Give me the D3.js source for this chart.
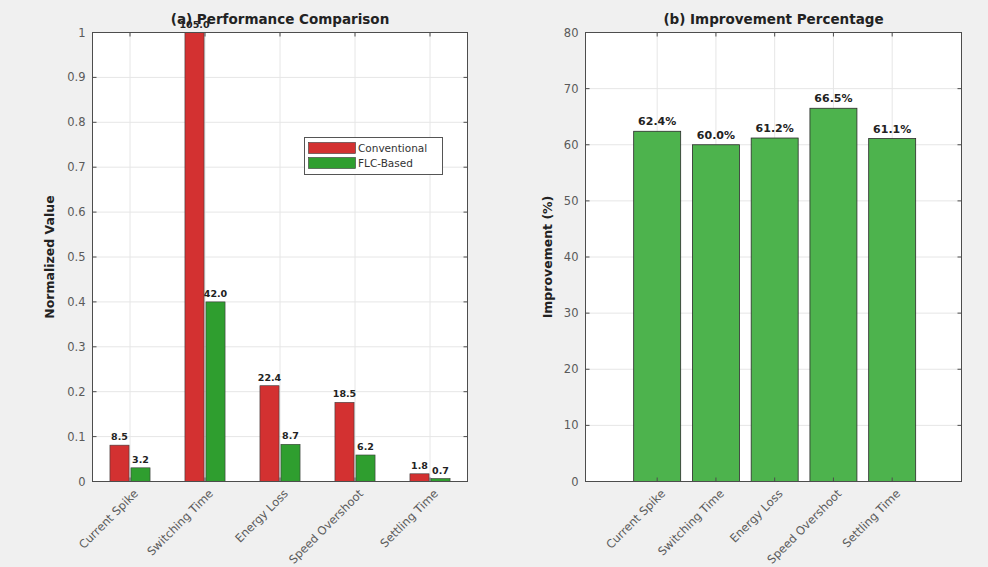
<!DOCTYPE html>
<html>
<head>
<meta charset="utf-8">
<script src="https://cdn.jsdelivr.net/npm/d3@7/dist/d3.min.js"></script>
<style>
  html, body { margin: 0; padding: 0; background: #f0f0f0; }
  svg { display: block; font-family: "DejaVu Sans", "Liberation Sans", Arial, sans-serif; }
</style>
</head>
<body>
<svg id="fig" width="988" height="567"></svg>
<script>
// Metrics compared in both panels
const categories = ["Current Spike", "Switching Time", "Energy Loss", "Speed Overshoot", "Settling Time"];
// Raw measured values for each controller
const conventional = [8.5, 105.0, 22.4, 18.5, 1.8];
const flcBased = [3.2, 42.0, 8.7, 6.2, 0.7];
// Improvement of the FLC-based controller over the conventional one (%)
const improvement = [62.4, 60.0, 61.2, 66.5, 61.1];
const seriesNames = ["Conventional", "FLC-Based"];
const leftTicks = [0, 0.1, 0.2, 0.3, 0.4, 0.5, 0.6, 0.7, 0.8, 0.9, 1];
const rightTicks = [0, 10, 20, 30, 40, 50, 60, 70, 80];

const RED = "#d33131", GREEN_A = "#2f9e2f", GREEN_B = "#4db34d";
const GRID = "#e6e6e6", AXIS = "#4d4d4d", TICKTXT = "#5a5a5a";

const svg = d3.select("#fig");
const maxVal = d3.max(conventional.concat(flcBased));

function frame(g, x0, x1, y0, y1) {
  g.append("rect").attr("x", x0).attr("y", y0).attr("width", x1 - x0).attr("height", y1 - y0)
    .attr("fill", "#fff");
}
function border(g, x0, x1, y0, y1) {
  g.append("rect").attr("x", x0).attr("y", y0).attr("width", x1 - x0).attr("height", y1 - y0)
    .attr("fill", "none").attr("stroke", AXIS).attr("stroke-width", 1);
}

// ---------- (a) Performance Comparison ----------
{
  const L = 92.5, R = 467.5, T = 32.5, B = 481.5;
  const g = svg.append("g");
  const x = d3.scaleLinear().domain([0.5, 5.5]).range([L, R]);
  const y = d3.scaleLinear().domain([0, 1]).range([B, T]);
  frame(g, L, R, T, B);

  // grid
  g.append("g").selectAll("line").data(leftTicks).join("line")
    .attr("x1", L).attr("x2", R).attr("y1", d => y(d)).attr("y2", d => y(d))
    .attr("stroke", GRID);
  g.append("g").selectAll("line").data(categories).join("line")
    .attr("x1", (d, i) => x(i + 1)).attr("x2", (d, i) => x(i + 1)).attr("y1", T).attr("y2", B)
    .attr("stroke", GRID);

  const bw = 0.255, off = 0.14;
  const series = [
    { vals: conventional, color: RED, dx: -off },
    { vals: flcBased, color: GREEN_A, dx: off }
  ];
  series.forEach(s => {
    g.append("g").selectAll("rect").data(s.vals).join("rect")
      .attr("x", (d, i) => x(i + 1 + s.dx - bw / 2))
      .attr("width", x(bw) - x(0))
      .attr("y", d => y(d / maxVal))
      .attr("height", d => B - y(d / maxVal))
      .attr("fill", s.color).attr("stroke", "#3a3a3a").attr("stroke-width", 0.6);
    g.append("g").selectAll("text").data(s.vals).join("text")
      .attr("x", (d, i) => x(i + 1 + s.dx))
      .attr("y", d => y(d / maxVal) - 5)
      .attr("text-anchor", "middle").attr("font-size", 9.5).attr("font-weight", "bold")
      .attr("fill", "#222")
      .text(d => d.toFixed(1));
  });

  border(g, L, R, T, B);

  // ticks
  const tk = 4;
  leftTicks.forEach(t => {
    g.append("line").attr("x1", L).attr("x2", L + tk).attr("y1", y(t)).attr("y2", y(t)).attr("stroke", AXIS);
    g.append("line").attr("x1", R).attr("x2", R - tk).attr("y1", y(t)).attr("y2", y(t)).attr("stroke", AXIS);
    g.append("text").attr("x", L - 7).attr("y", y(t)).attr("dy", "0.35em")
      .attr("text-anchor", "end").attr("font-size", 11.5).attr("fill", TICKTXT).text(t);
  });
  categories.forEach((c, i) => {
    const cx = x(i + 1);
    g.append("line").attr("x1", cx).attr("x2", cx).attr("y1", B).attr("y2", B - tk).attr("stroke", AXIS);
    g.append("line").attr("x1", cx).attr("x2", cx).attr("y1", T).attr("y2", T + tk).attr("stroke", AXIS);
    g.append("text").attr("transform", `translate(${cx + 6},${B + 10}) rotate(-45)`)
      .attr("text-anchor", "end").attr("dy", "0.35em")
      .attr("font-size", 11.5).attr("fill", TICKTXT).text(c);
  });

  g.append("text").attr("x", (L + R) / 2).attr("y", 24).attr("text-anchor", "middle")
    .attr("font-size", 13.5).attr("font-weight", "bold").attr("fill", "#222")
    .text("(a) Performance Comparison");
  g.append("text").attr("transform", `translate(54,${(T + B) / 2}) rotate(-90)`)
    .attr("text-anchor", "middle").attr("font-size", 12.5).attr("font-weight", "bold").attr("fill", "#222")
    .text("Normalized Value");

  // legend
  const lg = g.append("g");
  lg.append("rect").attr("x", 304.5).attr("y", 137.5).attr("width", 138).attr("height", 37)
    .attr("fill", "#fff").attr("stroke", "#555");
  [RED, GREEN_A].forEach((col, i) => {
    lg.append("rect").attr("x", 308.5).attr("y", 142.5 + i * 15).attr("width", 47).attr("height", 11)
      .attr("fill", col).attr("stroke", "#3a3a3a").attr("stroke-width", 0.6);
    lg.append("text").attr("x", 358).attr("y", 148 + i * 15).attr("dy", "0.35em")
      .attr("font-size", 10.5).attr("fill", "#333").text(seriesNames[i]);
  });
}

// ---------- (b) Improvement Percentage ----------
{
  const L = 585.5, R = 961.5, T = 32.5, B = 481.5;
  const g = svg.append("g");
  const x = d3.scaleLinear().domain([-0.22, 6.18]).range([L, R]);
  const y = d3.scaleLinear().domain([0, 80]).range([B, T]);
  frame(g, L, R, T, B);

  g.append("g").selectAll("line").data(rightTicks).join("line")
    .attr("x1", L).attr("x2", R).attr("y1", d => y(d)).attr("y2", d => y(d))
    .attr("stroke", GRID);
  g.append("g").selectAll("line").data(categories).join("line")
    .attr("x1", (d, i) => x(i + 1)).attr("x2", (d, i) => x(i + 1)).attr("y1", T).attr("y2", B)
    .attr("stroke", GRID);

  const bw = 0.8;
  g.append("g").selectAll("rect").data(improvement).join("rect")
    .attr("x", (d, i) => x(i + 1 - bw / 2))
    .attr("width", x(bw) - x(0))
    .attr("y", d => y(d))
    .attr("height", d => B - y(d))
    .attr("fill", GREEN_B).attr("stroke", "#2a2a2a").attr("stroke-width", 0.8);
  g.append("g").selectAll("text").data(improvement).join("text")
    .attr("x", (d, i) => x(i + 1))
    .attr("y", d => y(d) - 6)
    .attr("text-anchor", "middle").attr("font-size", 11).attr("font-weight", "bold")
    .attr("fill", "#222")
    .text(d => d.toFixed(1) + "%");

  border(g, L, R, T, B);

  const tk = 4;
  rightTicks.forEach(t => {
    g.append("line").attr("x1", L).attr("x2", L + tk).attr("y1", y(t)).attr("y2", y(t)).attr("stroke", AXIS);
    g.append("line").attr("x1", R).attr("x2", R - tk).attr("y1", y(t)).attr("y2", y(t)).attr("stroke", AXIS);
    g.append("text").attr("x", L - 7).attr("y", y(t)).attr("dy", "0.35em")
      .attr("text-anchor", "end").attr("font-size", 11.5).attr("fill", TICKTXT).text(t);
  });
  categories.forEach((c, i) => {
    const cx = x(i + 1);
    g.append("line").attr("x1", cx).attr("x2", cx).attr("y1", B).attr("y2", B - tk).attr("stroke", AXIS);
    g.append("line").attr("x1", cx).attr("x2", cx).attr("y1", T).attr("y2", T + tk).attr("stroke", AXIS);
    g.append("text").attr("transform", `translate(${cx + 6},${B + 10}) rotate(-45)`)
      .attr("text-anchor", "end").attr("dy", "0.35em")
      .attr("font-size", 11.5).attr("fill", TICKTXT).text(c);
  });

  g.append("text").attr("x", (L + R) / 2).attr("y", 24).attr("text-anchor", "middle")
    .attr("font-size", 13.5).attr("font-weight", "bold").attr("fill", "#222")
    .text("(b) Improvement Percentage");
  g.append("text").attr("transform", `translate(552,${(T + B) / 2}) rotate(-90)`)
    .attr("text-anchor", "middle").attr("font-size", 12.5).attr("font-weight", "bold").attr("fill", "#222")
    .text("Improvement (%)");
}
</script>
</body>
</html>
